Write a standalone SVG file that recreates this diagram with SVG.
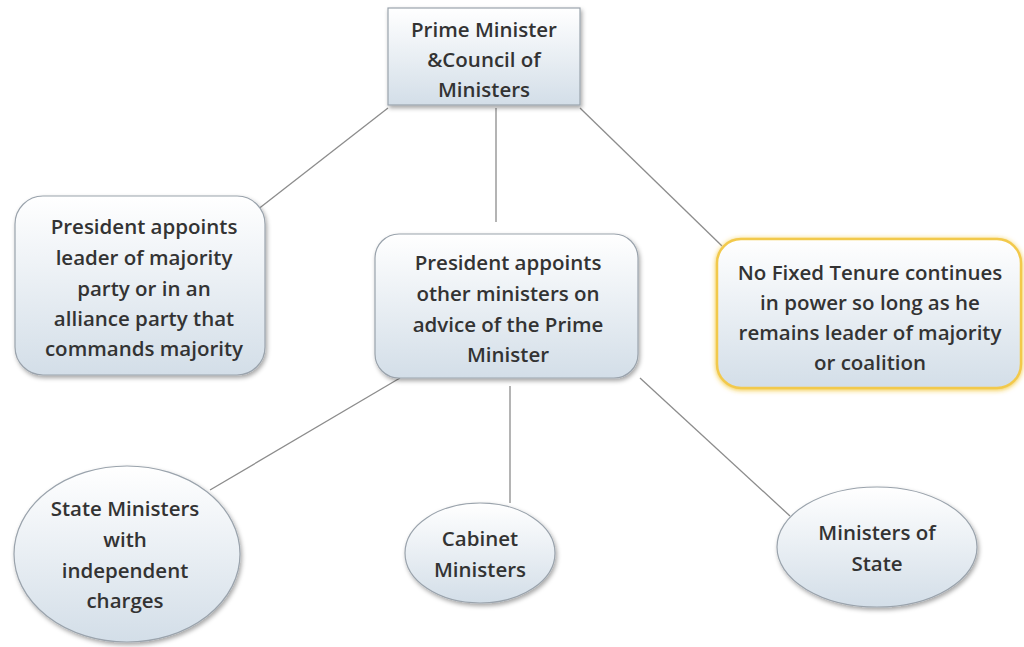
<svg xmlns="http://www.w3.org/2000/svg" width="1024" height="647" viewBox="0 0 1024 647">
<style>
.t{font-family:"Open Sans","Liberation Sans",sans-serif;font-weight:600;font-size:20.5px;fill:#333;text-anchor:middle;dominant-baseline:central}
.n{fill:url(#g);stroke:#9aa3ac;stroke-width:1.2;filter:url(#sh)}
.c{stroke:#8c8c8c;stroke-width:1.3;fill:none}
</style>
<defs>
<linearGradient id="g" x1="0" y1="0" x2="0" y2="1">
<stop offset="0" stop-color="#ffffff"/>
<stop offset="1" stop-color="#d3dee8"/>
</linearGradient>
<filter id="sh" x="-10%" y="-10%" width="130%" height="130%">
<feDropShadow dx="1.5" dy="2.5" stdDeviation="2" flood-color="#000" flood-opacity="0.35"/>
</filter>
<filter id="glow" x="-10%" y="-10%" width="120%" height="130%">
<feDropShadow dx="0" dy="1" stdDeviation="2.5" flood-color="#f0c020" flood-opacity="0.9"/>
</filter>
</defs>
<rect width="1024" height="647" fill="#fff"/>
<g id="connectors">
<line class="c" x1="388" y1="108" x2="257" y2="210"/>
<line class="c" x1="496" y1="108" x2="496" y2="222"/>
<line class="c" x1="580" y1="108" x2="722" y2="246"/>
<line class="c" x1="400" y1="378" x2="210" y2="490"/>
<line class="c" x1="510" y1="386" x2="510" y2="503"/>
<line class="c" x1="640" y1="378" x2="790" y2="516"/>
</g>
<g id="pm">
<rect class="n" x="388" y="8" width="192" height="97"/>
<text class="t"><tspan x="484" y="29">Prime Minister</tspan><tspan x="484" y="59">&amp;Council of</tspan><tspan x="484" y="89">Ministers</tspan></text>
</g>
<g id="leader">
<rect class="n" x="15" y="196" width="250" height="179" rx="28"/>
<text class="t"><tspan x="144" y="226">President appoints</tspan><tspan x="144" y="257">leader of majority</tspan><tspan x="144" y="288">party or in an</tspan><tspan x="144" y="318">alliance party that</tspan><tspan x="144" y="348">commands majority</tspan></text>
</g>
<g id="others">
<rect class="n" x="375" y="234" width="263" height="144" rx="24"/>
<text class="t"><tspan x="508" y="262">President appoints</tspan><tspan x="508" y="293">other ministers on</tspan><tspan x="508" y="324">advice of the Prime</tspan><tspan x="508" y="354">Minister</tspan></text>
</g>
<g id="tenure">
<rect x="717" y="239" width="304" height="149" rx="24" fill="url(#g)" stroke="#f2c94c" stroke-width="2.5" filter="url(#glow)"/>
<text class="t"><tspan x="870" y="272">No Fixed Tenure continues</tspan><tspan x="870" y="302">in power so long as he</tspan><tspan x="870" y="332">remains leader of majority</tspan><tspan x="870" y="362">or coalition</tspan></text>
</g>
<g id="state">
<ellipse class="n" cx="127" cy="554" rx="113" ry="88"/>
<text class="t"><tspan x="125" y="508">State Ministers</tspan><tspan x="125" y="539">with</tspan><tspan x="125" y="570">independent</tspan><tspan x="125" y="600">charges</tspan></text>
</g>
<g id="cabinet">
<ellipse class="n" cx="480" cy="553" rx="75" ry="50"/>
<text class="t"><tspan x="480" y="538">Cabinet</tspan><tspan x="480" y="569">Ministers</tspan></text>
</g>
<g id="mos">
<ellipse class="n" cx="877" cy="547" rx="100" ry="60"/>
<text class="t"><tspan x="877" y="532">Ministers of</tspan><tspan x="877" y="563">State</tspan></text>
</g>
</svg>
